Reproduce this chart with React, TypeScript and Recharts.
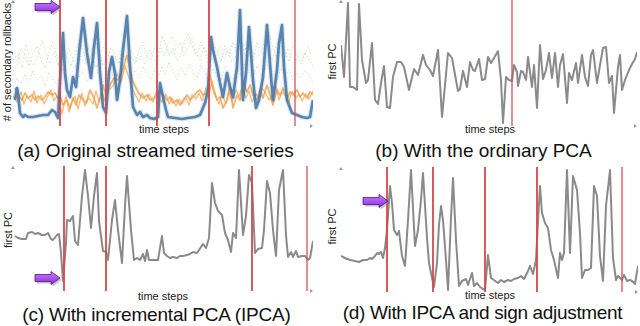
import { LineChart, Line, XAxis, YAxis, ReferenceLine, ReferenceDot } from "recharts";

type Pt = [number, number]; // [time step, value]

// (a) original streamed time-series, # of secondary rollbacks
const A_BLUE: Pt[] = [
  [2, 26], [4, 38], [5, 33], [7, 13], [10, 9], [12, 11], [15, 9], [20, 9], [25, 10], [30, 11], [35, 11],
  [39, 16], [42, 14], [45, 8], [48, 63], [50, 93], [52, 53], [54, 36], [57, 29], [60, 49], [63, 39],
  [66, 73], [70, 108], [74, 73], [78, 48], [81, 79], [84, 103], [87, 53], [90, 19], [93, 13], [96, 54],
  [99, 69], [102, 53], [104, 26], [107, 46], [110, 76], [114, 110], [117, 59], [120, 19], [124, 11],
  [127, 14], [130, 9], [134, 11], [137, 8], [141, 7], [145, 9], [147, 43], [150, 29], [153, 16], [155, 9],
  [162, 8], [169, 7], [175, 8], [182, 9], [187, 11], [192, 23], [195, 36], [198, 89], [200, 76], [204, 59],
  [207, 43], [210, 29], [214, 53], [217, 39], [220, 29], [224, 59], [227, 116], [230, 26], [233, 53],
  [236, 99], [240, 46], [243, 18], [246, 26], [250, 49], [254, 101], [258, 49], [260, 26], [264, 56],
  [266, 83], [269, 101], [271, 59], [274, 26], [279, 13], [284, 11], [289, 9], [294, 8], [297, 9], [300, 26],
];
const A_ORANGE: Pt[] = [
  [2, 38], [5, 31], [9, 26], [12, 33], [15, 28], [19, 31], [22, 26], [25, 30], [29, 26], [32, 29], [35, 34],
  [39, 31], [42, 33], [45, 28], [47, 31], [50, 21], [54, 26], [57, 18], [60, 28], [63, 21], [66, 31],
  [70, 26], [73, 23], [77, 36], [81, 28], [84, 18], [87, 28], [90, 41], [93, 31], [97, 41], [101, 48],
  [105, 46], [109, 54], [114, 71], [117, 56], [120, 44], [124, 36], [127, 31], [130, 28], [134, 31],
  [137, 26], [141, 28], [144, 31], [147, 36], [150, 31], [154, 26], [157, 29], [160, 23], [164, 26],
  [167, 21], [170, 26], [174, 31], [177, 26], [180, 29], [184, 34], [187, 36], [190, 31], [194, 33],
  [197, 51], [200, 36], [204, 26], [207, 29], [210, 18], [214, 26], [217, 41], [220, 18], [224, 31],
  [227, 26], [230, 44], [234, 34], [237, 41], [240, 31], [244, 26], [247, 36], [250, 28], [254, 41],
  [257, 31], [260, 21], [264, 36], [267, 31], [270, 38], [274, 26], [277, 34], [280, 31], [284, 36],
  [287, 29], [290, 33], [294, 28], [297, 34], [300, 31],
];
const A_ORANGE_2: Pt[] = [
  [0, 30], [4, 24], [8, 34], [11, 22], [14, 30], [18, 24], [21, 35], [24, 23], [28, 31], [31, 22], [34, 28],
  [38, 36], [41, 25], [44, 30], [47, 22], [49, 12], [53, 30], [56, 14], [59, 24], [62, 30], [65, 17],
  [69, 33], [72, 20], [76, 28], [80, 22], [83, 35], [86, 24], [89, 33], [92, 25], [96, 36], [100, 40],
  [104, 52], [108, 44], [112, 60], [116, 48], [119, 38], [123, 30], [126, 24], [129, 33], [133, 25],
  [136, 32], [140, 24], [143, 34], [146, 28], [149, 24], [153, 32], [156, 22], [159, 28], [163, 20],
  [166, 27], [169, 22], [173, 28], [176, 21], [179, 31], [183, 27], [186, 33], [189, 25], [193, 38],
  [196, 30], [199, 45], [203, 30], [206, 22], [209, 32], [213, 22], [216, 34], [219, 24], [223, 36],
  [226, 30], [229, 38], [233, 28], [236, 35], [239, 24], [243, 32], [246, 28], [249, 38], [253, 32],
  [256, 26], [259, 30], [263, 40], [266, 26], [269, 34], [273, 30], [276, 24], [279, 35], [283, 28],
  [286, 32], [289, 25], [293, 32], [296, 27], [300, 35],
];
const A_GREEN: Pt[] = [
  [0, 55], [4, 62], [8, 78], [12, 70], [16, 60], [20, 72], [24, 80], [28, 66], [32, 58], [36, 74], [40, 84],
  [44, 70], [47, 56], [50, 80], [54, 68], [58, 60], [62, 72], [66, 86], [70, 76], [74, 62], [78, 70],
  [82, 88], [86, 74], [90, 60], [94, 66], [98, 78], [102, 70], [106, 62], [110, 84], [114, 92], [118, 70],
  [122, 62], [126, 76], [130, 84], [134, 70], [138, 66], [142, 80], [146, 74], [149, 90], [152, 84],
  [156, 70], [160, 78], [164, 66], [168, 72], [172, 86], [176, 92], [180, 78], [184, 70], [188, 84],
  [192, 74], [196, 60], [200, 82], [204, 76], [208, 64], [212, 80], [216, 70], [220, 84], [224, 74],
  [228, 88], [232, 70], [236, 80], [240, 66], [244, 84], [248, 76], [252, 70], [256, 94], [260, 78],
  [264, 68], [268, 86], [272, 74], [276, 64], [280, 80], [284, 72], [288, 62], [292, 74], [296, 66], [300, 60],
];
const A_GREEN_2: Pt[] = [
  [0, 40], [4, 48], [8, 42], [12, 52], [16, 44], [20, 56], [24, 46], [28, 50], [32, 40], [36, 54], [40, 46],
  [44, 42], [47, 50], [50, 58], [54, 46], [58, 52], [62, 60], [66, 48], [70, 56], [74, 44], [78, 52],
  [82, 62], [86, 50], [90, 44], [94, 56], [98, 48], [102, 58], [106, 50], [110, 62], [114, 54], [118, 46],
  [122, 56], [126, 48], [130, 60], [134, 52], [138, 46], [142, 58], [146, 50], [149, 60], [152, 52],
  [156, 64], [160, 54], [164, 46], [168, 58], [172, 50], [176, 62], [180, 54], [184, 48], [188, 60],
  [192, 52], [196, 44], [200, 58], [204, 50], [208, 46], [212, 60], [216, 52], [220, 46], [224, 58],
  [228, 50], [232, 62], [236, 54], [240, 48], [244, 60], [248, 50], [252, 56], [256, 64], [260, 52],
  [264, 46], [268, 58], [272, 50], [276, 56], [280, 46], [284, 54], [288, 48], [292, 56], [296, 50], [300, 44],
];
const A_GREEN_3: Pt[] = [
  [0, 66], [5, 72], [9, 58], [13, 82], [17, 66], [21, 60], [25, 70], [29, 86], [33, 72], [37, 62], [41, 74],
  [45, 60], [48, 70], [52, 62], [56, 78], [60, 66], [64, 58], [68, 70], [72, 62], [76, 80], [80, 68],
  [84, 58], [88, 74], [92, 82], [96, 68], [100, 60], [104, 72], [108, 76], [112, 66], [116, 80], [120, 72],
  [124, 64], [128, 70], [132, 62], [136, 76], [140, 70], [144, 62], [148, 78], [151, 70], [155, 82],
  [159, 90], [163, 76], [167, 84], [171, 70], [175, 78], [179, 88], [183, 72], [187, 66], [191, 80],
  [195, 70], [199, 66], [203, 70], [207, 80], [211, 68], [215, 76], [219, 64], [223, 70], [227, 78],
  [231, 82], [235, 70], [239, 76], [243, 68], [247, 72], [251, 82], [255, 72], [259, 66], [263, 80],
  [267, 74], [271, 66], [275, 78], [279, 70], [283, 64], [287, 74], [291, 68], [295, 80], [299, 70],
];
const A_CHANGES = [47, 93, 144, 196, 282];
const A_ARROW: Pt = [47, 119];

// (b) ordinary PCA, first PC
const B_PC: Pt[] = [
  [0, 81], [3, 49], [7, 123], [9, 39], [12, 39], [16, 36], [18, 122], [21, 66], [25, 43], [27, 46], [31, 83],
  [34, 26], [37, 22], [40, 43], [43, 60], [46, 19], [49, 18], [52, 49], [56, 64], [60, 64], [63, 59],
  [68, 36], [73, 57], [77, 51], [82, 71], [85, 61], [89, 56], [92, 50], [97, 76], [101, 9], [107, 73],
  [111, 68], [117, 35], [119, 37], [122, 55], [126, 39], [129, 64], [132, 56], [134, 55], [138, 67],
  [141, 46], [144, 47], [147, 69], [150, 63], [153, 68], [157, 75], [160, 46], [162, 3], [165, 49],
  [168, 46], [171, 45], [173, 61], [176, 54], [177, 40], [180, 55], [182, 54], [185, 46], [187, 69],
  [191, 39], [193, 61], [196, 18], [199, 81], [202, 47], [205, 56], [208, 73], [211, 48], [214, 73],
  [217, 39], [219, 61], [222, 72], [226, 23], [228, 53], [231, 46], [235, 63], [237, 43], [241, 71],
  [244, 49], [247, 40], [250, 71], [252, 76], [256, 43], [259, 61], [262, 78], [265, 79], [268, 43],
  [271, 50], [273, 13], [277, 59], [279, 71], [281, 36], [284, 46], [288, 56], [291, 62], [294, 67], [296, 74],
];
const B_CHANGES = [171];

// (c) incremental PCA, first PC
const C_PC: Pt[] = [
  [2, 55], [5, 53], [9, 52], [13, 52], [15, 58], [19, 59], [22, 57], [25, 58], [29, 56], [32, 56], [35, 58],
  [38, 52], [40, 51], [44, 56], [46, 57], [48, 38], [50, 10], [53, 48], [54, 71], [57, 70], [60, 75],
  [62, 50], [65, 46], [69, 95], [72, 121], [75, 95], [78, 63], [81, 95], [84, 118], [86, 70], [90, 40],
  [93, 39], [95, 31], [99, 71], [102, 91], [105, 61], [109, 28], [112, 85], [114, 115], [118, 61],
  [121, 31], [124, 33], [127, 31], [130, 37], [132, 30], [134, 41], [136, 31], [140, 31], [143, 31],
  [145, 31], [149, 55], [151, 38], [154, 35], [157, 33], [160, 34], [164, 33], [167, 35], [170, 35],
  [174, 36], [177, 37], [180, 39], [184, 38], [186, 41], [190, 47], [193, 43], [196, 53], [199, 108],
  [202, 88], [205, 80], [209, 76], [212, 58], [215, 51], [218, 39], [220, 58], [223, 53], [226, 121],
  [230, 56], [233, 75], [236, 116], [239, 108], [242, 38], [245, 42], [249, 43], [251, 61], [254, 110],
  [257, 98], [260, 61], [263, 35], [266, 101], [270, 121], [273, 56], [275, 34], [278, 39], [280, 34],
  [283, 40], [285, 34], [289, 35], [292, 35], [295, 31], [297, 33], [300, 50],
];
const C_CHANGES = [51, 93, 239, 294];
const C_ARROW: Pt = [47, 13];

// (d) IPCA with sign adjustment, first PC
const D_PC: Pt[] = [
  [0, 36], [4, 34], [9, 32], [14, 31], [18, 30], [22, 32], [26, 32], [29, 34], [31, 33], [34, 36], [36, 39],
  [38, 38], [40, 40], [42, 34], [44, 44], [46, 62], [49, 106], [51, 89], [53, 62], [56, 57], [58, 61],
  [61, 36], [64, 26], [67, 72], [70, 122], [74, 46], [77, 62], [80, 92], [82, 119], [86, 54], [88, 29],
  [91, 14], [93, 5], [96, 29], [98, 67], [100, 86], [102, 72], [105, 32], [107, 2], [110, 74], [112, 114],
  [115, 52], [118, 6], [121, 11], [125, 13], [127, 7], [131, 19], [133, 6], [136, 9], [139, 5], [142, 3],
  [144, 2], [147, 37], [150, 14], [153, 12], [157, 9], [160, 12], [163, 10], [167, 12], [170, 11],
  [173, 13], [177, 14], [180, 16], [183, 13], [187, 21], [189, 26], [192, 18], [195, 32], [197, 71],
  [199, 106], [201, 79], [204, 69], [207, 64], [210, 42], [213, 32], [217, 14], [219, 39], [221, 32],
  [223, 39], [226, 122], [229, 39], [232, 116], [236, 102], [239, 59], [241, 14], [244, 22], [247, 22],
  [250, 24], [253, 106], [256, 96], [259, 36], [262, 11], [265, 86], [269, 122], [272, 34], [275, 12],
  [277, 16], [281, 12], [283, 17], [286, 11], [289, 12], [291, 11], [294, 8], [297, 26],
];
const D_CHANGES = [46, 92, 144, 196, 281];
const D_ARROW: Pt = [47, 91];

const toRows = (pts: Pt[]) => pts.map(([t, v]) => ({ t, v }));

const FONT = "'Liberation Sans', Arial, Helvetica, sans-serif";
const GRAY = "#8a8a8a";
const RED = "#d8484b";
const BLUE = "#4a78a9";
const ORANGE = "#f29d45";
const GREEN = "#96c285";

type Series = { data: Pt[]; stroke: string; width: number; opacity?: number; dash?: string };

type PanelProps = {
  id: string;
  left: number;
  top: number;
  margin: { top: number; right: number; bottom: number; left: number };
  xMax: number;
  yMax: number;
  axes: boolean;
  series: Series[];
  changes: number[];
  arrow?: Pt;
};

function UpTick(props: any) {
  const { cx, cy } = props;
  return <polygon points={`${cx - 2},${cy + 3} ${cx + 2},${cy + 3} ${cx},${cy}`} fill="#999" />;
}

function RightTick(props: any) {
  const { cx, cy } = props;
  return <polygon points={`${cx - 3},${cy - 2} ${cx - 3},${cy + 2} ${cx},${cy}`} fill="#999" />;
}

function PurpleArrow(props: any) {
  const { cx, cy, gid } = props;
  const len = 25;
  const head = 9;
  const body = 3.5;
  const wing = 6.5;
  const pts = [
    [cx, cy],
    [cx - head, cy - wing],
    [cx - head, cy - body],
    [cx - len, cy - body],
    [cx - len, cy + body],
    [cx - head, cy + body],
    [cx - head, cy + wing],
  ]
    .map((p) => p.join(","))
    .join(" ");
  return (
    <g>
      <defs>
        <linearGradient id={gid} x1="0" y1="0" x2="0" y2="1">
          <stop offset="0%" stopColor="#cf7dff" />
          <stop offset="100%" stopColor="#8a2be2" />
        </linearGradient>
      </defs>
      <polygon points={pts} fill="#777" opacity={0.45} transform="translate(1.5,2)" />
      <polygon points={pts} fill={`url(#${gid})`} stroke="#4a1a78" strokeWidth={0.8} />
    </g>
  );
}

function Panel(p: PanelProps) {
  return (
    <div style={{ position: "absolute", left: p.left, top: p.top }}>
      <LineChart width={320} height={140} margin={p.margin}>
        <XAxis
          type="number"
          dataKey="t"
          domain={[0, p.xMax]}
          hide={!p.axes}
          height={0}
          tick={false}
          tickLine={false}
          axisLine={{ stroke: "#c8c8c8" }}
          allowDataOverflow
        />
        <YAxis
          type="number"
          dataKey="v"
          domain={[0, p.yMax]}
          hide={!p.axes}
          width={0}
          tick={false}
          tickLine={false}
          axisLine={{ stroke: "#c8c8c8" }}
          allowDataOverflow
        />
        {p.series.map((s, i) => (
          <Line
            key={i}
            data={toRows(s.data)}
            dataKey="v"
            type="linear"
            stroke={s.stroke}
            strokeWidth={s.width}
            strokeOpacity={s.opacity ?? 1}
            strokeDasharray={s.dash}
            strokeLinejoin="round"
            dot={false}
            activeDot={false}
            isAnimationActive={false}
          />
        ))}
        {p.changes.map((x, i) => (
          <ReferenceLine
            key={x}
            x={x}
            stroke={RED}
            strokeWidth={1.8}
            strokeOpacity={i === p.changes.length - 1 || p.changes.length === 1 ? 0.7 : 1}
          />
        ))}
        <ReferenceDot x={0} y={p.yMax} r={2} shape={UpTick} />
        <ReferenceDot x={p.xMax} y={0} r={2} shape={RightTick} />
        {p.arrow && (
          <ReferenceDot
            x={p.arrow[0]}
            y={p.arrow[1]}
            r={2}
            shape={(s: any) => <PurpleArrow {...s} gid={`arrow-${p.id}`} />}
          />
        )}
      </LineChart>
    </div>
  );
}

export default function App() {
  const label = { fontFamily: FONT, fontSize: 11, fill: "#222" } as const;
  const caption = { fontFamily: FONT, fontSize: 19, fill: "#111", textAnchor: "middle" } as const;
  return (
    <div
      style={{
        position: "absolute",
        left: 0,
        top: 0,
        width: 640,
        height: 326,
        background: "#fff",
        overflow: "hidden",
      }}
    >
      <Panel
        id="a"
        left={0}
        top={0}
        margin={{ top: 0, right: 7, bottom: 14, left: 13 }}
        xMax={300}
        yMax={126}
        axes={false}
        series={[
          { data: A_GREEN, stroke: GREEN, width: 1, opacity: 0.55, dash: "1.5 2" },
          { data: A_GREEN_2, stroke: GREEN, width: 1, opacity: 0.45, dash: "1.5 2" },
          { data: A_GREEN_3, stroke: GREEN, width: 1, opacity: 0.45, dash: "1.5 2.5" },
          { data: A_ORANGE_2, stroke: ORANGE, width: 1.3, opacity: 0.7 },
          { data: A_ORANGE, stroke: ORANGE, width: 1.7, opacity: 0.8 },
          { data: A_BLUE, stroke: BLUE, width: 5, opacity: 0.18 },
          { data: A_BLUE, stroke: BLUE, width: 2.7, opacity: 0.9 },
        ]}
        changes={A_CHANGES}
        arrow={A_ARROW}
      />
      <Panel
        id="b"
        left={320}
        top={0}
        margin={{ top: 0, right: 3, bottom: 14, left: 21 }}
        xMax={296}
        yMax={126}
        axes
        series={[{ data: B_PC, stroke: GRAY, width: 2 }]}
        changes={B_CHANGES}
      />
      <Panel
        id="c"
        left={0}
        top={163}
        margin={{ top: 3, right: 7, bottom: 12, left: 13 }}
        xMax={300}
        yMax={125}
        axes={false}
        series={[{ data: C_PC, stroke: GRAY, width: 2 }]}
        changes={C_CHANGES}
        arrow={C_ARROW}
      />
      <Panel
        id="d"
        left={320}
        top={163}
        margin={{ top: 4, right: 2, bottom: 11, left: 21 }}
        xMax={297}
        yMax={125}
        axes
        series={[{ data: D_PC, stroke: GRAY, width: 2 }]}
        changes={D_CHANGES}
        arrow={D_ARROW}
      />
      <svg
        width={640}
        height={326}
        style={{ position: "absolute", left: 0, top: 0, pointerEvents: "none" }}
      >
        <text {...label} x={164} y={133} textAnchor="middle">time steps</text>
        <text {...label} x={490} y={133} textAnchor="middle">time steps</text>
        <text {...label} x={163} y={300} textAnchor="middle">time steps</text>
        <text {...label} x={490} y={299} textAnchor="middle">time steps</text>
        <text {...label} transform="translate(10.5,62) rotate(-90)" textAnchor="middle">
          # of secondary rollbacks
        </text>
        <text {...label} transform="translate(335.5,61.5) rotate(-90)" textAnchor="middle">first PC</text>
        <text {...label} transform="translate(11.5,230) rotate(-90)" textAnchor="middle">first PC</text>
        <text {...label} transform="translate(335.5,226.5) rotate(-90)" textAnchor="middle">first PC</text>
        <text {...caption} x={155.5} y={157}>(a) Original streamed time-series</text>
        <text {...caption} x={483.5} y={157}>(b) With the ordinary PCA</text>
        <text {...caption} x={156.5} y={321} letterSpacing={-0.2}>(c) With incremental PCA (IPCA)</text>
        <text {...caption} x={482.5} y={319} letterSpacing={-0.33}>(d) With IPCA and sign adjustment</text>
      </svg>
    </div>
  );
}
